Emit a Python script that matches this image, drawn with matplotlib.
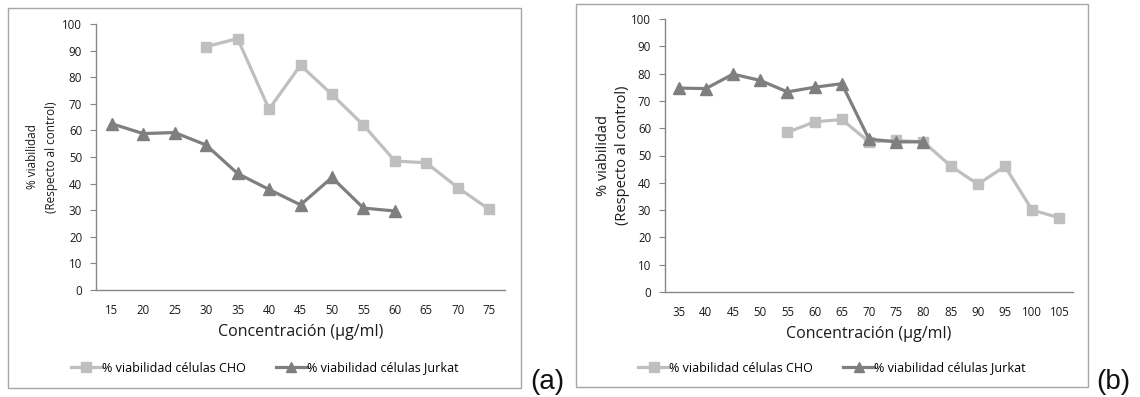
import matplotlib
matplotlib.use("Agg")
import matplotlib.pyplot as plt
from matplotlib.patches import Rectangle
import numpy as np

plt.rcParams['font.family'] = ['Open Sans', 'DejaVu Sans']

# ---- data panel (a)
conc_a = [15, 20, 25, 30, 35, 40, 45, 50, 55, 60, 65, 70, 75]
cho_a = [None, None, None, 91.5, 94.5, 68.0, 84.5, 73.5, 62.0, 48.5, 47.8, 38.5, 30.3]
jurkat_a = [62.5, 58.8, 59.2, 54.5, 43.8, 37.8, 32.0, 42.3, 30.8, 29.7, None, None, None]

# ---- data panel (b)
conc_b = [35, 40, 45, 50, 55, 60, 65, 70, 75, 80, 85, 90, 95, 100, 105]
cho_b = [None, None, None, None, 58.5, 62.3, 63.2, 55.0, 55.5, 55.0, 46.2, 39.5, 46.0, 30.0, 27.2]
jurkat_b = [74.7, 74.5, 79.8, 77.5, 73.3, 75.0, 76.3, 56.0, 55.0, 55.0, None, None, None, None, None]

yticks = list(range(0, 101, 10))
ylabel = "% viabilidad\n(Respecto al control)"
xlabel = "Concentración (µg/ml)"
lab_cho = "% viabilidad células CHO"
lab_jur = "% viabilidad células Jurkat"

W, H = 1140, 397
fig = plt.figure(figsize=(W / 100, H / 100), dpi=100)

C_CHO = "#BFBFBF"
C_JUR = "#7F7F7F"
AX_C = "#868686"
TXT = "#1a1a1a"


def px_axes(l, r, t, b):
    return fig.add_axes([l / W, 1 - b / H, (r - l) / W, (b - t) / H])


def to_arr(v):
    return np.array([np.nan if x is None else x for x in v], dtype=float)


def panel(box, axbox, cats, cho, jur, tag, tagpos, ylab_x, ylab_fs, ylab_ls):
    bl, br, bt, bb = box
    fig.patches.append(Rectangle((bl / W, 1 - bb / H), (br - bl) / W, (bb - bt) / H,
                                 transform=fig.transFigure, fill=False,
                                 edgecolor="#A6A6A6", linewidth=1.0))
    ax = px_axes(*axbox)
    x = np.arange(len(cats))
    l1, = ax.plot(x, to_arr(cho), color=C_CHO, lw=2.3, marker="s", ms=7.5,
                  label=lab_cho, clip_on=False)
    l2, = ax.plot(x, to_arr(jur), color=C_JUR, lw=2.3, marker="^", ms=8,
                  label=lab_jur, clip_on=False)
    ax.set_xlim(-0.5, len(cats) - 0.5)
    ax.set_ylim(0, 100)
    ax.set_yticks(yticks)
    ax.set_xticks(x)
    ax.set_xticklabels([str(c) for c in cats])
    for s in ["top", "right"]:
        ax.spines[s].set_visible(False)
    for s in ["left", "bottom"]:
        ax.spines[s].set_color(AX_C)
        ax.spines[s].set_linewidth(1.0)
    ax.tick_params(axis="y", direction="out", length=4, color=AX_C,
                   labelsize=8.3, pad=6, labelcolor=TXT)
    ax.tick_params(axis="x", length=0, labelsize=8.3, pad=10, labelcolor=TXT)
    ax.set_xlabel(xlabel, fontsize=11.5, color=TXT, labelpad=5)
    ax.set_ylabel(ylabel, fontsize=ylab_fs, color=TXT, linespacing=ylab_ls)
    ax.yaxis.set_label_coords(ylab_x, 0.5)
    cx = ((bl + br) / 2) / W
    fig.legend(handles=[l1, l2], loc="center", bbox_to_anchor=(cx, 1 - 368 / H),
               ncol=2, frameon=False, fontsize=9, handlelength=2.5,
               handletextpad=0.0, columnspacing=2.4, markerscale=0.95)
    fig.text(tagpos[0] / W, 1 - tagpos[1] / H, tag, fontsize=20,
             family="Liberation Sans", ha="left", va="baseline", color="#111111")
    ax.patch.set_alpha(0)


panel((8, 521, 8, 388), (96, 505, 24, 290), conc_a, cho_a, jurkat_a, "(a)",
      (530, 389), -0.093, 8.5, 1.55)
panel((576, 1088, 4, 387), (665, 1073, 19, 292), conc_b, cho_b, jurkat_b, "(b)",
      (1096, 389), -0.086, 10.5, 1.35)

fig.savefig("out.png", dpi=100)
